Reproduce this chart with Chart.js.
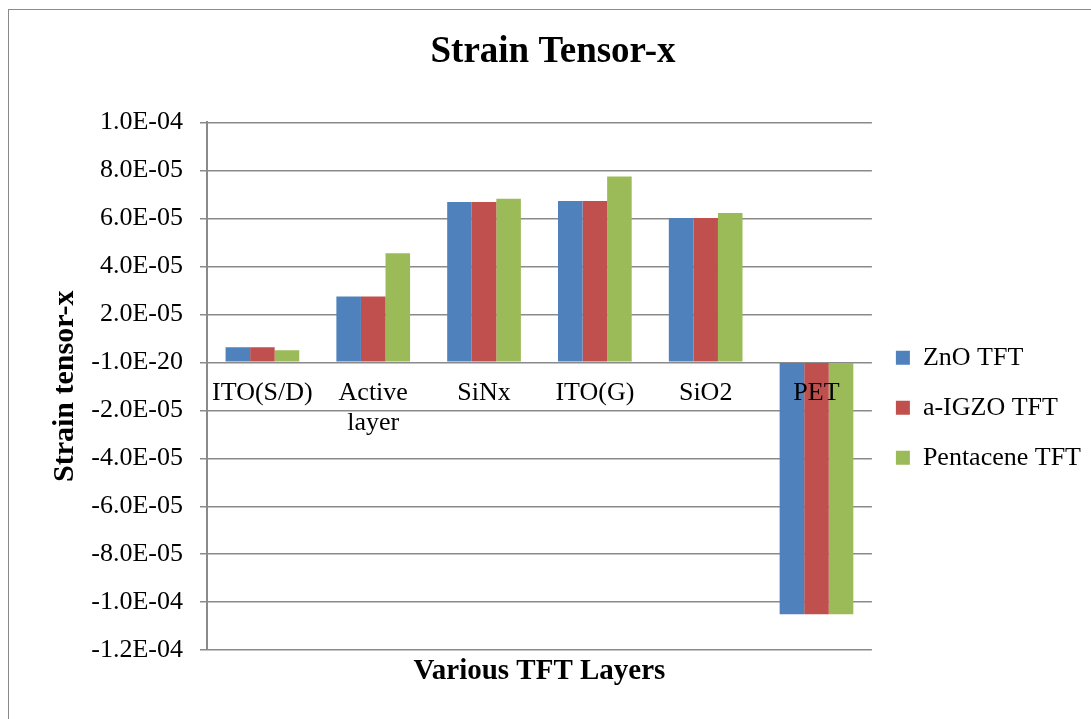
<!DOCTYPE html>
<html>
<head>
<meta charset="utf-8">
<script src="https://cdn.jsdelivr.net/npm/chart.js@4.4.1/dist/chart.umd.min.js"></script>
<style>
  html, body { margin: 0; padding: 0; background: #fff; }
  #wrap { position: relative; width: 1091px; height: 719px; overflow: hidden; }
  #frame { position: absolute; left: 8px; top: 9px; width: 1200px; height: 800px;
           border: 1.5px solid #8a8a8a; box-sizing: border-box; }
  #c { position: absolute; left: 0; top: 0; }
</style>
</head>
<body>
<div id="wrap">
  <div id="frame"></div>
  <canvas id="c" width="1091" height="719"></canvas>
</div>
<script>
// TFT layers along the x axis
const layers = ['ITO(S/D)', ['Active', 'layer'], 'SiNx', 'ITO(G)', 'SiO2', 'PET'];

// Strain tensor-x per layer, one array per device type
const znoTFT       = [6.3e-6, 2.74e-5, 6.68e-5, 6.72e-5, 6.01e-5, -1.05e-4];
const igzoTFT      = [6.3e-6, 2.74e-5, 6.68e-5, 6.72e-5, 6.01e-5, -1.05e-4];
const pentaceneTFT = [5.0e-6, 4.55e-5, 6.82e-5, 7.74e-5, 6.22e-5, -1.05e-4];

// Value axis labels, bottom to top
const yTickLabels = ['-1.2E-04', '-1.0E-04', '-8.0E-05', '-6.0E-05', '-4.0E-05', '-2.0E-05',
                     '-1.0E-20', '2.0E-05', '4.0E-05', '6.0E-05', '8.0E-05', '1.0E-04'];

const serif = "'Liberation Serif', 'Times New Roman', serif";
const gridGray = '#8a8a8a';

new Chart(document.getElementById('c'), {
  type: 'bar',
  data: {
    labels: layers,
    datasets: [
      { label: 'ZnO TFT', data: znoTFT, backgroundColor: '#4F81BD' },
      { label: 'a-IGZO TFT', data: igzoTFT, backgroundColor: '#C0504D' },
      { label: 'Pentacene TFT', data: pentaceneTFT, backgroundColor: '#9BBB59' }
    ]
  },
  options: {
    responsive: false,
    animation: false,
    layout: { padding: { left: 15, right: 0, top: 0, bottom: 30 } },
    datasets: { bar: { categoryPercentage: 0.665, barPercentage: 1.0 } },
    scales: {
      // category labels sit just under the zero line, drawn above the bars
      x: {
        type: 'category',
        position: { y: 0 },
        grid: { display: false, drawTicks: false },
        border: { display: false },
        ticks: {
          z: 1,
          autoSkip: false, maxRotation: 0, minRotation: 0, padding: 16,
          color: '#000',
          font: { family: serif, size: 26, lineHeight: 1.15 }
        }
      },
      // bottom axis carrying only the category axis title
      xTitle: {
        type: 'category',
        axis: 'x',
        position: 'bottom',
        grid: { display: false, drawTicks: false },
        border: { display: false },
        ticks: { display: false },
        title: {
          display: true, text: 'Various TFT Layers', color: '#000',
          font: { family: serif, size: 29, weight: 'bold' },
          padding: { top: 4, bottom: 0 }
        }
      },
      y: {
        min: -1.2e-4,
        max: 1.0e-4,
        afterFit: (scale) => { scale.width = 192; },
        grid: { color: gridGray, lineWidth: 1.5, tickLength: 7, drawTicks: true },
        border: { color: gridGray, width: 2 },
        ticks: {
          stepSize: 2e-5, padding: 17, color: '#000',
          font: { family: serif, size: 26 },
          callback: (value, index) => yTickLabels[index]
        },
        title: {
          display: true, text: 'Strain tensor-x', color: '#000',
          font: { family: serif, size: 30, weight: 'bold' },
          padding: { top: 32, bottom: 0 }
        }
      }
    },
    plugins: {
      title: {
        display: true, text: 'Strain Tensor-x', color: '#000',
        font: { family: serif, size: 37, weight: 'bold' },
        padding: { top: 30, bottom: 48 }
      },
      legend: {
        position: 'right',
        align: 'center',
        fullSize: false,
        title: { display: true, text: '', font: { size: 10 }, padding: { top: 31, bottom: 0 } },
        labels: {
          boxWidth: 14, boxHeight: 14, padding: 24, color: '#000',
          font: { family: serif, size: 26 }
        }
      },
      tooltip: { enabled: false }
    }
  }
});
</script>
</body>
</html>
